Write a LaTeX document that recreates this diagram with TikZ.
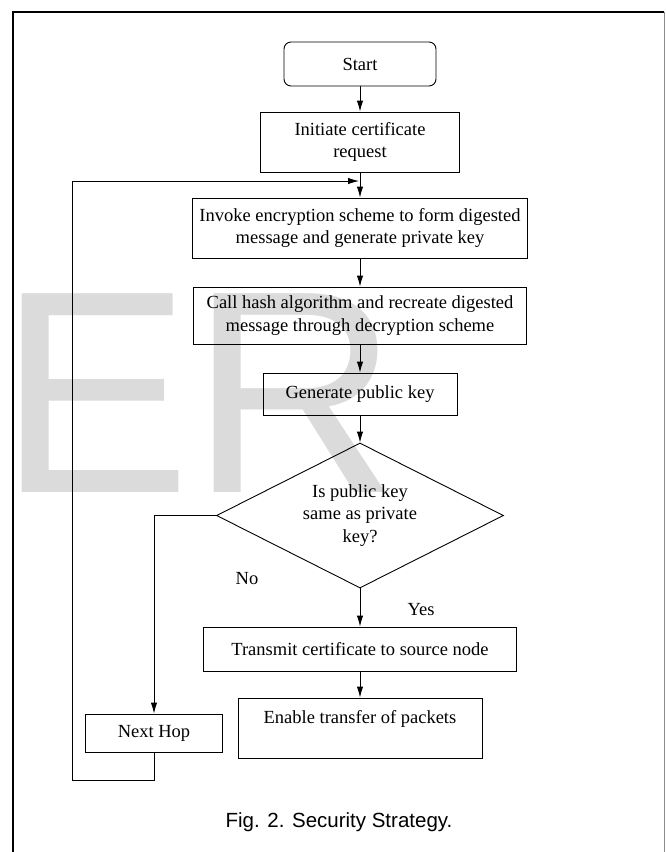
\documentclass[tikz,border=0pt]{standalone}
\usepackage{fontspec}
\setmainfont{Liberation Serif}
\newfontfamily\capfont{Liberation Sans}
\usetikzlibrary{shapes.geometric,arrows.meta}
\begin{document}
\begin{tikzpicture}[x=1pt,y=-1pt,
  box/.style={draw, line width=0.9pt, inner sep=2pt, align=center, font=\fontsize{18.5}{22.5}\selectfont},
  lbl/.style={inner sep=0pt, font=\fontsize{18.5}{22.5}\selectfont},
  arr/.style={-{Latex[length=11pt,width=6.5pt]}, line width=0.9pt},
  frame/.style={line width=1.6pt}]
\useasboundingbox (0,0) rectangle (665,852);
% watermark
\node[anchor=base west, inner sep=0pt, text=black!14, font=\capfont\fontsize{289}{289}\selectfont] (wm) at (-2,492) {ER};
% frame
\coordinate (fbl) at (13,852);
\coordinate (ftl) at (13,12);
\coordinate (ftr) at (664,12);
\coordinate (fbr) at (664,852);
\draw[frame] (fbl) -- (ftl) -- (ftr);
\draw[line width=0.8pt, black!45] (ftr) -- (fbr);
% nodes
\node[box, rounded corners=7pt, minimum width=152pt, minimum height=44pt] (start) at (360,64) {Start};
\node[box, minimum width=199pt, minimum height=60pt] (init) at (360,142) {Initiate certificate\\request};
\node[box, minimum width=335pt, minimum height=60pt] (invoke) at (360,228) {Invoke encryption scheme to form digested\\message and generate private key};
\node[box, minimum width=333pt, minimum height=57pt] (hash) at (360,315.5) {Call hash algorithm and recreate digested\\message through decryption scheme};
\node[box, minimum width=194pt, minimum height=42pt] (pub) at (360,394) {Generate public key};
\node[box, diamond, aspect=2, inner sep=0pt, minimum width=287pt, minimum height=145pt] (dia) at (360,515.5) {Is public key\\same as private\\key?};
\node[box, minimum width=313pt, minimum height=44pt] (transmit) at (360,649) {Transmit certificate to source node};
\node[box, minimum width=244pt, minimum height=60pt] (enable) at (360,728) {Enable transfer of packets\\\mbox{}};
\node[box, minimum width=137pt, minimum height=38pt] (nexthop) at (154,733) {Next Hop};
\node[lbl] (no) at (247,579) {No};
\node[lbl] (yes) at (421,610) {Yes};
\node[inner sep=0pt, font=\capfont\fontsize{20.5}{24}\selectfont] (cap) at (339,822) {Fig. 2. Security Strategy.};
% connectors
\draw[arr] (start) -- (init);
\draw[arr] (init) -- (invoke);
\draw[arr] (invoke) -- (hash);
\draw[arr] (hash) -- (pub);
\draw[arr] (pub) -- (dia);
\draw[arr] (dia) -- (transmit);
\draw[arr] (transmit) -- (enable);
\draw[arr] (dia.west) -| (nexthop.north);
\coordinate (lb) at (72,780);
\coordinate (lt) at (72,181);
\coordinate (entry) at (359,181);
\draw[arr] (nexthop.south) |- (lb) -- (lt) -- (entry);
\end{tikzpicture}
\end{document}
